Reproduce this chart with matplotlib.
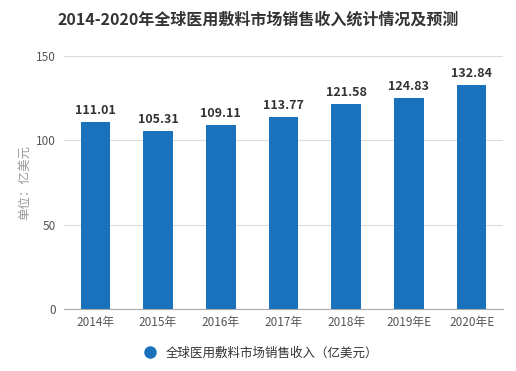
import numpy as np
import matplotlib.pyplot as plt

plt.rcParams['font.family'] = ['Noto Sans CJK SC', 'DejaVu Sans']

# data
years = ['2014年', '2015年', '2016年', '2017年', '2018年', '2019年E', '2020年E']
revenue = [111.01, 105.31, 109.11, 113.77, 121.58, 124.83, 132.84]
yticks = [0, 50, 100, 150]

bar_color = '#1a72bd'

fig = plt.figure(figsize=(5.16, 3.71), dpi=100)
ax = fig.add_axes([64 / 516, 1 - 309 / 371, (503 - 64) / 516, (309 - 56) / 371])

x = np.arange(len(years))
bars = ax.bar(x, revenue, width=0.47, color=bar_color, zorder=3,
              label='全球医用敷料市场销售收入（亿美元）')

for xi, v in zip(x, revenue):
    ax.text(xi, v + 3, f'{v:.2f}', ha='center', va='bottom',
            fontsize=9, fontweight='bold', color='#333333')

ax.set_xlim(-0.5, len(years) - 0.5)
ax.set_ylim(0, 150)
ax.set_yticks(yticks)
ax.set_xticks(x)
ax.set_xticklabels(years)
ax.tick_params(axis='both', labelsize=8.5, colors='#555555', length=0)
ax.tick_params(axis='x', pad=5)
ax.tick_params(axis='y', pad=6)
ax.yaxis.grid(True, color='#dddddd', linewidth=0.8, zorder=0)

for s in ['top', 'right', 'left']:
    ax.spines[s].set_visible(False)
ax.spines['bottom'].set_color('#aaaaaa')

ax.set_ylabel('单位：亿美元', fontsize=9, color='#999999', labelpad=3)

fig.text(0.5, 1 - 20 / 371, '2014-2020年全球医用敷料市场销售收入统计情况及预测',
         ha='center', va='center', fontsize=11.5, fontweight='bold', color='#333333')

leg = fig.legend(handles=[plt.Line2D([], [], marker='o', linestyle='', markersize=8,
                                     color=bar_color)],
                 labels=['全球医用敷料市场销售收入（亿美元）'],
                 loc='center', bbox_to_anchor=(0.5, 1 - 353 / 371),
                 frameon=False, fontsize=9, handletextpad=0.3)
for t in leg.get_texts():
    t.set_color('#333333')

fig.savefig('out.png', dpi=100)
